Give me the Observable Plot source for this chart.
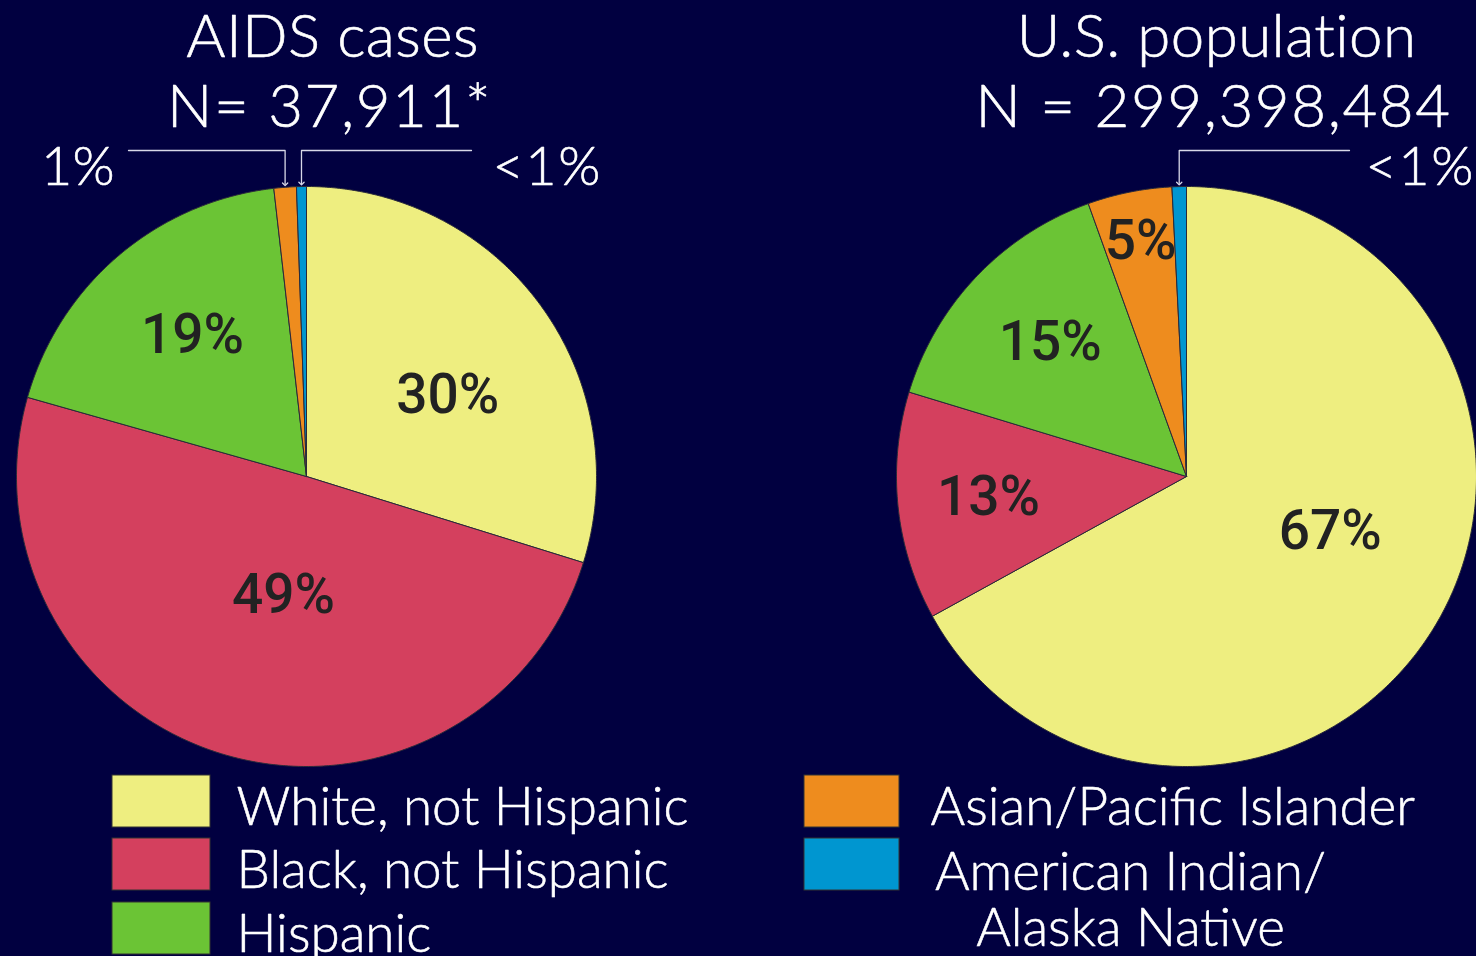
<!DOCTYPE html>
<html><head><meta charset="utf-8">
<script src="https://cdn.jsdelivr.net/npm/d3@7"></script>
<script src="https://cdn.jsdelivr.net/npm/@observablehq/plot@0.6"></script>
<style>html,body{margin:0;padding:0;background:#010040;} svg{display:block}</style>
</head><body><div id="chart"></div>
<script>
// ---- data ----
const categories = ["White, not Hispanic","Black, not Hispanic","Hispanic","Asian/Pacific Islander","American Indian/Alaska Native"];
const aidsValues = [29.8, 49.6, 18.8, 1.25, 0.55];
const aidsLabels = ["30%","49%","19%","1%","<1%"];
const popValues = [67.0, 12.7, 14.8, 4.7, 0.8];
const popLabels = ["67%","13%","15%","5%","<1%"];
const aidsTitle = ["AIDS cases","N= 37,911*"];
const popTitle = ["U.S. population","N = 299,398,484"];
const legendLeft = ["White, not Hispanic","Black, not Hispanic","Hispanic"];
const legendRight = ["Asian/Pacific Islander","American Indian/\nAlaska Native"];
const colors = ["#eeee80","#d4405e","#6bc435","#ee8c1e","#0096d0"];

// ---- layout ----
const W = 1476, H = 956;
const R = 290;
const pies = [
  {cx: 306, cy: 476, values: aidsValues, labels: aidsLabels, title: aidsTitle, titleX: [332, 329],
   inner: [[60, 163],[191, 121],[321, 181]],
   outer: [{i: 3, side: "left", x: 128, tx: 114}, {i: 4, side: "right", x: 471, tx: 492}]},
  {cx: 1186, cy: 476, values: popValues, labels: popLabels, title: popTitle, titleX: [1216, 1213],
   inner: [[111, 154],[264, 199],[314.5, 191],[349, 240]],
   outer: [{i: 4, side: "right", x: 1349, tx: 1365}]}
];
const FONT = "'Lato','Open Sans',sans-serif";
const THICK = {stroke: "white", strokeWidth: 0.6};

function slices(p) {
  const total = d3.sum(p.values);
  let a = 0;
  return p.values.map((v, i) => {
    const a0 = a, a1 = a + v / total * 2 * Math.PI;
    a = a1;
    const pts = [{x: p.cx, y: p.cy}];
    const n = Math.max(2, Math.ceil((a1 - a0) / (Math.PI / 360)));
    for (let k = 0; k <= n; k++) {
      const t = a0 + (a1 - a0) * k / n;
      pts.push({x: p.cx + R * Math.sin(t), y: p.cy - R * Math.cos(t)});
    }
    pts.push({x: p.cx, y: p.cy});
    return {i, a0, a1, pts};
  });
}

const marks = [];
for (const p of pies) {
  const sl = slices(p);
  for (const s of sl) {
    marks.push(Plot.line(s.pts, {x: "x", y: "y", fill: colors[s.i], stroke: "#2a2a3a", strokeWidth: 1, curve: "linear-closed"}));
  }
  // inner labels
  const inner = p.inner.map(([deg, r], i) => ({
    x: p.cx + r * Math.sin(deg * Math.PI / 180),
    y: p.cy - r * Math.cos(deg * Math.PI / 180),
    t: p.labels[i]
  }));
  marks.push(Plot.text(inner, {x: "x", y: "y", text: "t", fill: "#222", fontSize: 55, fontWeight: 500, fontFamily: "Roboto, sans-serif"}));
  // outer labels with leader lines
  for (const o of p.outer) {
    const s = sl[o.i];
    const mid = (s.a0 + s.a1) / 2;
    const ax = p.cx + R * Math.sin(mid);
    const ay = p.cy - R * Math.cos(mid);
    const ly = 150;
    marks.push(Plot.line([{x: o.x, y: ly}, {x: ax, y: ly}, {x: ax, y: ay - 3}], {x: "x", y: "y", stroke: "#d8d8e8", strokeWidth: 1.3, markerEnd: "arrow"}));
    marks.push(Plot.text([p.labels[o.i]], {x: () => o.tx, y: () => 184, text: d => d, fill: "white", ...THICK, fontSize: 54, fontWeight: 300, fontFamily: FONT, lineAnchor: "bottom", textAnchor: o.side === "left" ? "end" : "start", ariaLabel: () => o.side === "right" ? "lt-label" : "small-label"}));
  }
  // titles
  marks.push(Plot.text([p.title[0]], {x: () => p.titleX[0], y: () => 56, text: d => d, fill: "white", ...THICK, fontSize: 60, fontWeight: 300, fontFamily: FONT, lineAnchor: "bottom", ariaLabel: () => "title"}));
  marks.push(Plot.text([p.title[1]], {x: () => p.titleX[1], y: () => 126, text: d => d, fill: "white", ...THICK, fontSize: 60, fontWeight: 300, fontFamily: FONT, lineAnchor: "bottom", ariaLabel: () => "subtitle"}));
}

// legend
const legendRows = [775, 838, 902];
const leftLegend = legendLeft.map((t, i) => ({t, c: colors[i], y1: legendRows[i], y2: legendRows[i] + 52}));
const rightLegend = legendRight.map((t, i) => ({t, c: colors[i + 3], y1: legendRows[i], y2: legendRows[i] + 52}));
const legText = {fill: "white", ...THICK, fontSize: 53, fontWeight: 300, fontFamily: FONT, lineAnchor: "bottom"};
marks.push(Plot.rect(leftLegend, {x1: () => 112, x2: () => 210, y1: "y1", y2: "y2", fill: "c", stroke: "#333"}));
marks.push(Plot.rect(rightLegend, {x1: () => 804, x2: () => 899, y1: "y1", y2: "y2", fill: "c", stroke: "#333"}));
marks.push(Plot.text(leftLegend, {x: () => 236, y: d => d.y2 - 3, text: "t", textAnchor: "start", ...legText}));
marks.push(Plot.text([rightLegend[0]], {x: () => 930, y: d => d.y2 - 3, text: "t", textAnchor: "start", ...legText}));
marks.push(Plot.text([rightLegend[1]], {x: () => 1130, y: () => 945, text: "t", textAnchor: "middle", lineHeight: 1.05, ...legText}));

const chart = Plot.plot({
  width: W, height: H,
  margin: 0,
  x: {domain: [0, W], range: [0, W], axis: null},
  y: {domain: [0, H], range: [0, H], axis: null},
  color: {type: "identity"},
  style: {background: "#010040", overflow: "visible"},
  marks
});
// letter spacing tweaks to approximate the original geometric typeface
const sel = d3.select(chart);
sel.selectAll('[aria-label="title"]').attr("letter-spacing", 0.4);
sel.selectAll('[aria-label="subtitle"]').attr("letter-spacing", 1.6);
sel.selectAll('[aria-label="lt-label"]').attr("letter-spacing", 1.5);
document.getElementById("chart").appendChild(chart);
</script>
</body></html>
